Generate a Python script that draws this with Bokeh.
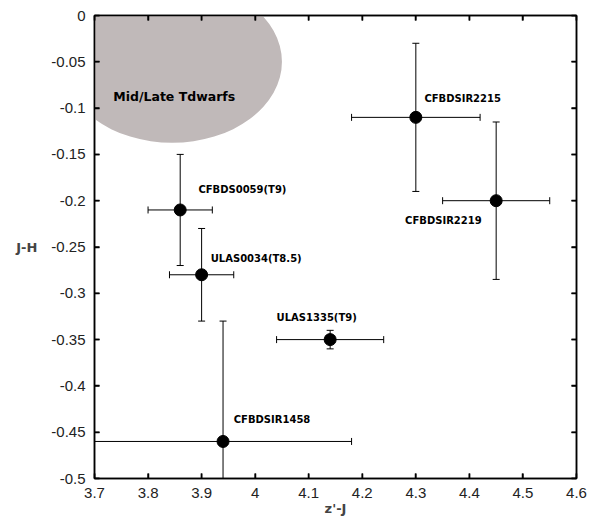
import numpy as np
from bokeh.plotting import figure
from bokeh.models import ColumnDataSource, LinearAxis, FixedTicker, Range1d, Label
from bokeh.embed import file_html
from bokeh.resources import INLINE

names = ["CFBDS0059(T9)", "ULAS0034(T8.5)", "ULAS1335(T9)", "CFBDSIR1458", "CFBDSIR2215", "CFBDSIR2219"]
zJ = [3.86, 3.90, 4.14, 3.94, 4.30, 4.45]
zJ_err = [0.06, 0.06, 0.10, 0.24, 0.12, 0.10]
JH = [-0.21, -0.28, -0.35, -0.46, -0.11, -0.20]
JH_err = [0.06, 0.05, 0.01, 0.13, 0.08, 0.085]
label_x = [3.894, 3.917, 4.04, 3.96, 4.316, 4.28]
label_y = [-0.188, -0.262, -0.326, -0.436, -0.0896, -0.221]

region_name = "Mid/Late Tdwarfs"
region_x, region_y = 3.845, -0.05
region_w, region_h = 0.41, 0.175

x_ticks = [3.7, 3.8, 3.9, 4.0, 4.1, 4.2, 4.3, 4.4, 4.5, 4.6]
x_tick_labels = ["3.7", "3.8", "3.9", "4", "4.1", "4.2", "4.3", "4.4", "4.5", "4.6"]
y_ticks = [0, -0.05, -0.1, -0.15, -0.2, -0.25, -0.3, -0.35, -0.4, -0.45, -0.5]
y_tick_labels = ["0", "-0.05", "-0.1", "-0.15", "-0.2", "-0.25", "-0.3", "-0.35", "-0.4", "-0.45", "-0.5"]

x = np.array(zJ); xe = np.array(zJ_err)
y = np.array(JH); ye = np.array(JH_err)
src = ColumnDataSource(dict(x=x, y=y, xl=x - xe, xu=x + xe, yl=y - ye, yu=y + ye,
                            name=names, lx=label_x, ly=label_y))

X0, X1, Y0, Y1 = 3.7, 4.6, -0.5, 0.0
p = figure(width=605, height=518, output_backend="svg", toolbar_location=None,
           x_range=Range1d(X0, X1), y_range=Range1d(Y0, Y1),
           min_border_left=94, min_border_right=29, min_border_top=15, min_border_bottom=40,
           x_axis_label="z'-J")
p.xgrid.visible = False
p.ygrid.visible = False
p.outline_line_color = "black"
p.outline_line_width = 1.5
p.background_fill_color = "white"
p.border_fill_color = "white"

p.ellipse(x=region_x, y=region_y, width=region_w, height=region_h,
          fill_color="#c0b9b9", line_color=None)
p.add_layout(Label(x=3.735, y=-0.0875, text=region_name, text_font="DejaVu Sans",
                   text_font_style="bold", text_font_size="12.5px", text_baseline="middle",
                   text_color="black"))

# inward tick marks on all four sides (half of each dash is clipped by the frame)
ts = dict(line_color="black", line_width=1.5, size=10)
p.scatter(x=[X0] * len(y_ticks), y=y_ticks, marker="dash", **ts)
p.scatter(x=[X1] * len(y_ticks), y=y_ticks, marker="dash", **ts)
p.scatter(x=x_ticks, y=[Y0] * len(x_ticks), marker="dash", angle=np.pi / 2, **ts)
p.scatter(x=x_ticks, y=[Y1] * len(x_ticks), marker="dash", angle=np.pi / 2, **ts)

# error bars
p.segment(x0="xl", y0="y", x1="xu", y1="y", source=src, line_color="black", line_width=1)
p.segment(x0="x", y0="yl", x1="x", y1="yu", source=src, line_color="black", line_width=1)
p.scatter(x="xl", y="y", source=src, marker="dash", angle=np.pi / 2, size=7, line_color="black", line_width=1)
p.scatter(x="xu", y="y", source=src, marker="dash", angle=np.pi / 2, size=7, line_color="black", line_width=1)
p.scatter(x="x", y="yl", source=src, marker="dash", size=7, line_color="black", line_width=1)
p.scatter(x="x", y="yu", source=src, marker="dash", size=7, line_color="black", line_width=1)
p.scatter(x="x", y="y", source=src, marker="circle", size=12, fill_color="black", line_color="black")

p.text(x="lx", y="ly", text="name", source=src, text_font={"value": "DejaVu Sans"},
       text_font_style="bold", text_font_size="10px", text_baseline="middle", text_color="black")

def style(ax, show_labels):
    ax.axis_line_color = "black"
    ax.axis_line_width = 1.5
    ax.major_tick_in = 5
    ax.major_tick_out = 0
    ax.major_tick_line_color = "black"
    ax.major_tick_line_width = 1.5
    ax.minor_tick_line_color = None
    ax.major_label_text_font = "Liberation Sans"
    ax.major_label_text_font_size = "15px"
    ax.major_label_text_color = "#222222"
    ax.major_label_standoff = 9
    if not show_labels:
        ax.major_label_text_font_size = "0px"
        ax.major_label_standoff = 0

p.xaxis.ticker = FixedTicker(ticks=x_ticks)
p.xaxis.major_label_overrides = dict(zip(x_ticks, x_tick_labels))
p.yaxis.ticker = FixedTicker(ticks=y_ticks)
p.yaxis.major_label_overrides = dict(zip(y_ticks, y_tick_labels))
style(p.xaxis[0], True)
style(p.yaxis[0], True)
p.xaxis.axis_label_text_font = "DejaVu Sans"
p.xaxis.axis_label_text_font_style = "bold"
p.xaxis.axis_label_text_font_size = "13px"
p.xaxis.axis_label_standoff = 0

top = LinearAxis(ticker=FixedTicker(ticks=x_ticks))
style(top, False)
p.add_layout(top, "above")
right = LinearAxis(ticker=FixedTicker(ticks=y_ticks))
style(right, False)
p.add_layout(right, "right")
top.major_label_overrides = {t: "" for t in x_ticks}
right.major_label_overrides = {t: "" for t in y_ticks}

yax = p.yaxis[0]
if "axis_label_orientation" in yax.properties():
    yax.axis_label = "J-H"
    yax.axis_label_orientation = "horizontal"
    yax.axis_label_text_font = "DejaVu Sans"
    yax.axis_label_text_font_style = "bold"
    yax.axis_label_text_font_size = "13px"
    yax.axis_label_standoff = 11
else:
    p.add_layout(Label(x=26, y=518 - 40 - 272 + 0, x_units="screen", y_units="screen",
                       text="J-H", text_font="DejaVu Sans",
                       text_font_style="bold", text_font_size="13px", text_baseline="middle",
                       text_align="center", text_color="black"))

open("out.html", "w").write(file_html(p, INLINE))
